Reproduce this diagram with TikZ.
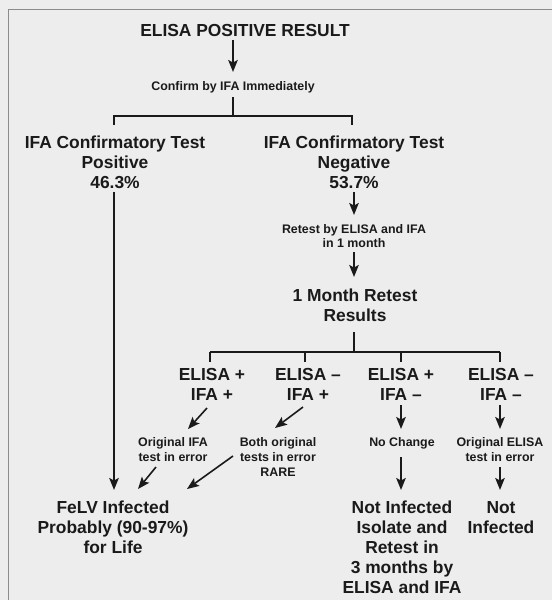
\documentclass[tikz,border=0pt]{standalone}
\usepackage{fontspec}
\setmainfont{Liberation Sans}
\usetikzlibrary{arrows.meta}
\newcommand{\mlines}[1]{\begin{tabular}[t]{@{}c@{}}#1\end{tabular}}
\definecolor{ink}{HTML}{1A1A1A}
\definecolor{paper}{HTML}{EDEDED}
\definecolor{frame}{HTML}{8C8C8C}
\tikzset{
  big/.style={font=\bfseries\fontsize{17.4}{20.2}\selectfont, inner sep=0pt, anchor=base, text=ink},
  small/.style={font=\bfseries\fontsize{12.4}{15}\selectfont, inner sep=0pt, anchor=base, text=ink},
  arr/.style={-{Stealth[length=12pt,width=9.5pt,inset=2.5pt]}, line width=1.6pt, draw=ink},
  ln/.style={line width=1.6pt, draw=ink},
}
\begin{document}
\begin{tikzpicture}[x=1pt,y=-1pt]
\useasboundingbox (0,0) rectangle (552,600);
\fill[paper] (0,0) rectangle (552,600);
\draw[frame, line width=1.5pt] (8.5,600) -- (8.5,9.5) -- (552,9.5);

% top
\node[big] (top) at (245,36) {ELISA POSITIVE RESULT};
\node[small] (confirm) at (233,90.5) {Confirm by IFA Immediately};
\coordinate (a1s) at (233,40);
\coordinate (a1e) at (233,72);
\draw[arr] (a1s) -- (a1e);

\coordinate (b1) at (233,97);
\coordinate (b2) at (233,116);
\coordinate (bl) at (114,116);
\coordinate (br) at (352,116);
\coordinate (blt) at (114,125);
\coordinate (brt) at (352,125);
\draw[ln] (b1) -- (b2);
\draw[ln] (blt) -- (bl) -- (br) -- (brt);

\node[big] (pos) at (115,148) {\mlines{IFA Confirmatory Test\\Positive\\46.3\%}};
\node[big] (neg) at (354,148) {\mlines{IFA Confirmatory Test\\Negative\\53.7\%}};

% left long arrow
\node[big] (felv) at (113,513) {\mlines{FeLV Infected\\Probably (90-97\%)\\for Life}};
\coordinate (ls) at (114,192);
\coordinate (le) at (114,490);
\draw[arr] (ls) -- (le);

% right branch
\coordinate (n1) at (354,192);
\coordinate (n2) at (354,215);
\draw[arr] (n1) -- (n2);
\node[small] (retest) at (354,233.5) {\mlines{Retest by ELISA and IFA\\[-1pt]in 1 month}};
\coordinate (r1) at (354,252);
\coordinate (r2) at (354,277);
\draw[arr] (r1) -- (r2);
\node[big] (month) at (355,301) {\mlines{1 Month Retest\\Results}};

\coordinate (m1) at (354,332);
\coordinate (m2) at (354,352);
\draw[ln] (m1) -- (m2);
\coordinate (h1) at (210,352);
\coordinate (h2) at (305,352);
\coordinate (h3) at (401,352);
\coordinate (h4) at (500,352);
\draw[ln] (h1) -- (h4);
\foreach \c in {h1,h2,h3,h4} \draw[ln] (\c) -- ++(0,10);

\node[big] (pp) at (212,380) {\mlines{ELISA +\\IFA +}};
\node[big] (mp) at (308,380) {\mlines{ELISA --\\IFA +}};
\node[big] (pm) at (401,380) {\mlines{ELISA +\\IFA --}};
\node[big] (mm) at (501,380) {\mlines{ELISA --\\IFA --}};

\node[small] (oifa) at (173,446) {\mlines{Original IFA\\test in error}};
\node[small] (both) at (278,446) {\mlines{Both original\\tests in error\\RARE}};
\node[small] (noch) at (402,446) {No Change};
\node[small] (oelisa) at (500,446) {\mlines{Original ELISA\\test in error}};

\coordinate (c1s) at (207,408);
\coordinate (c1e) at (188,429);
\coordinate (c2s) at (303,407);
\coordinate (c2e) at (275,428);
\coordinate (c3s) at (401,405);
\coordinate (c3e) at (401,429);
\coordinate (c4s) at (500,405);
\coordinate (c4e) at (500,429);
\draw[arr] (c1s) -- (c1e);
\draw[arr] (c2s) -- (c2e);
\draw[arr] (c3s) -- (c3e);
\draw[arr] (c4s) -- (c4e);

\coordinate (d1s) at (156,467);
\coordinate (d1e) at (138,489);
\coordinate (d2s) at (233,456);
\coordinate (d2e) at (187,489);
\coordinate (d3s) at (401,457);
\coordinate (d3e) at (401,490);
\coordinate (d4s) at (500,467);
\coordinate (d4e) at (500,490);
\draw[arr] (d1s) -- (d1e);
\draw[arr] (d2s) -- (d2e);
\draw[arr] (d3s) -- (d3e);
\draw[arr] (d4s) -- (d4e);

\node[big] (notinf) at (402,513) {\mlines{Not Infected\\Isolate and\\Retest in\\3 months by\\ELISA and IFA}};
\node[big] (notinf2) at (501,513) {\mlines{Not\\Infected}};
\end{tikzpicture}
\end{document}
